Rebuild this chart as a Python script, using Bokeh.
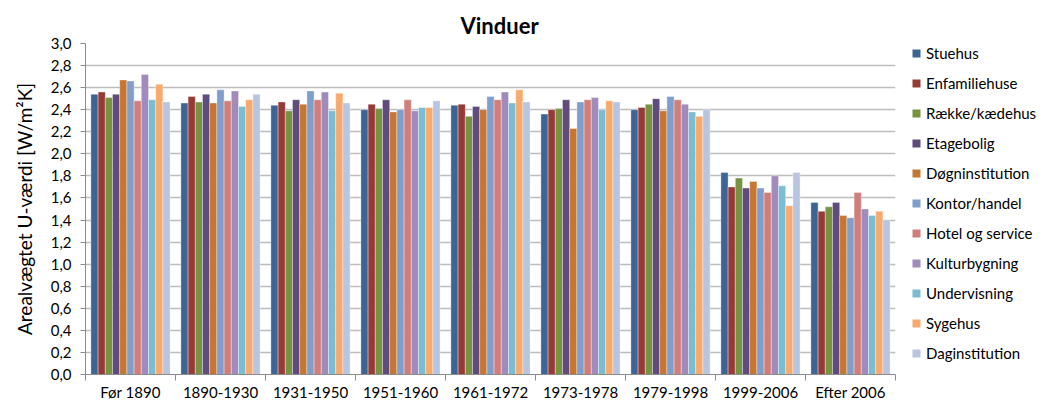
from bokeh.plotting import figure
from bokeh.layouts import row
from bokeh.models import (ColumnDataSource, Range1d, FixedTicker, CustomJSTickFormatter,
                          Legend, LegendItem)
from bokeh.embed import file_html
from bokeh.resources import INLINE

categories = ["Før 1890", "1890-1930", "1931-1950", "1951-1960", "1961-1972",
              "1973-1978", "1979-1998", "1999-2006", "Efter 2006"]

series_names = ["Stuehus", "Enfamiliehuse", "Række/kædehus", "Etagebolig",
                "Døgninstitution", "Kontor/handel", "Hotel og service",
                "Kulturbygning", "Undervisning", "Sygehus", "Daginstitution"]

stuehus        = [2.54, 2.46, 2.44, 2.40, 2.44, 2.36, 2.40, 1.83, 1.56]
enfamiliehuse  = [2.56, 2.52, 2.47, 2.45, 2.45, 2.40, 2.42, 1.70, 1.48]
raekke         = [2.51, 2.47, 2.39, 2.41, 2.34, 2.41, 2.45, 1.78, 1.52]
etagebolig     = [2.54, 2.54, 2.49, 2.49, 2.43, 2.49, 2.50, 1.69, 1.56]
doegninst      = [2.67, 2.46, 2.45, 2.38, 2.40, 2.23, 2.39, 1.75, 1.44]
kontor         = [2.66, 2.58, 2.57, 2.40, 2.52, 2.47, 2.52, 1.69, 1.42]
hotel          = [2.48, 2.48, 2.49, 2.49, 2.49, 2.49, 2.49, 1.65, 1.65]
kultur         = [2.72, 2.57, 2.56, 2.39, 2.56, 2.51, 2.45, 1.80, 1.50]
undervisning   = [2.49, 2.43, 2.39, 2.42, 2.46, 2.40, 2.38, 1.71, 1.44]
sygehus        = [2.63, 2.49, 2.55, 2.42, 2.58, 2.48, 2.34, 1.53, 1.48]
daginst        = [2.47, 2.54, 2.46, 2.48, 2.47, 2.47, 2.40, 1.83, 1.40]

series_values = [stuehus, enfamiliehuse, raekke, etagebolig, doegninst, kontor,
                 hotel, kultur, undervisning, sygehus, daginst]

colors = ["#3C6494", "#963A37", "#779340", "#5F4B7C", "#C57631", "#7F9ECB",
          "#CF7E7B", "#A08BBC", "#7CBCD3", "#F8A96E", "#B7C5E0"]

FONT = "Lato"
n_cat = len(categories)
n_ser = len(series_names)
bar_w = 0.08
H = 403

p = figure(width=905, height=H, output_backend="svg", toolbar_location=None,
           x_range=Range1d(0, n_cat), y_range=Range1d(0, 3.0),
           min_border_left=85, min_border_right=10, min_border_top=43,
           min_border_bottom=29, title="Vinduer")
p.background_fill_color = "white"
p.border_fill_color = "white"
p.outline_line_color = None

p.title.align = "left"
p.title.offset = 375
p.title.text_font = FONT
p.title.text_font_size = "22px"
p.title.text_font_style = "bold"
p.title.text_color = "#000000"
p.title.standoff = 9

for j, (name, vals, col) in enumerate(zip(series_names, series_values, colors)):
    xs = [i + 0.5 + (j - (n_ser - 1) / 2) * bar_w for i in range(n_cat)]
    src = ColumnDataSource(dict(x=xs, top=vals))
    p.vbar(x="x", top="top", width=bar_w, bottom=0, source=src,
           fill_color=col, line_color="white", line_alpha=0.45, line_width=0.8)

# grid
p.xgrid.grid_line_color = None
p.ygrid.grid_line_color = "#BDBDBD"
p.ygrid.grid_line_width = 1.3

# y axis
yticks = [round(k * 0.2, 1) for k in range(16)]
p.yaxis.ticker = FixedTicker(ticks=yticks)
p.yaxis.formatter = CustomJSTickFormatter(code="return tick.toFixed(1).replace('.', ',');")
p.yaxis.axis_label = "Arealvægtet U-værdi [W/m²K]"
p.yaxis.axis_label_text_font = FONT
p.yaxis.axis_label_text_font_size = "19px"
p.yaxis.axis_label_text_font_style = "normal"
p.yaxis.axis_label_text_color = "#000000"
p.yaxis.axis_label_standoff = 12
p.yaxis.major_label_text_font = FONT
p.yaxis.major_label_text_font_size = "15px"
p.yaxis.major_label_text_color = "#000000"
p.yaxis.major_label_standoff = 9
p.yaxis.major_tick_out = 5
p.yaxis.major_tick_in = 0
p.yaxis.minor_tick_line_color = None
p.yaxis.axis_line_color = "#8C8C8C"
p.yaxis.major_tick_line_color = "#8C8C8C"

# x axis: labels at group centres, tick marks at group boundaries
centers = [i + 0.5 for i in range(n_cat)]
bounds = [float(i) for i in range(n_cat + 1)]
p.xaxis.ticker = FixedTicker(ticks=centers, minor_ticks=bounds)
p.xaxis.major_label_overrides = {c: lab for c, lab in zip(centers, categories)}
p.xaxis.major_tick_line_color = None
p.xaxis.minor_tick_out = 6
p.xaxis.minor_tick_in = 0
p.xaxis.minor_tick_line_color = "#8C8C8C"
p.xaxis.axis_line_color = "#8C8C8C"
p.xaxis.major_label_text_font = FONT
p.xaxis.major_label_text_font_size = "15px"
p.xaxis.major_label_text_color = "#000000"
p.xaxis.major_label_standoff = 2

# legend panel (separate figure to the right of the chart)
lp = figure(width=141, height=H, output_backend="svg", toolbar_location=None,
            x_range=Range1d(0, 1), y_range=Range1d(0, 1),
            x_axis_location=None, y_axis_location=None,
            min_border_left=6, min_border_right=0,
            min_border_top=30, min_border_bottom=0)
lp.grid.visible = False
lp.outline_line_color = None
lp.background_fill_color = "white"
lp.border_fill_color = "white"

items = []
for name, col in zip(series_names, colors):
    # zero-size proxy glyph, only used for the legend swatch
    proxy = ColumnDataSource(dict(x=[0.0], top=[0.0]))
    r = lp.vbar(x="x", top="top", bottom=0, width=0, source=proxy,
                fill_color=col, line_color=None)
    items.append(LegendItem(label=name, renderers=[r]))

legend = Legend(items=items, location="top_left", orientation="vertical")
legend.label_text_font = FONT
legend.label_text_font_size = "15px"
legend.label_text_color = "#000000"
legend.glyph_width = 10
legend.glyph_height = 10
legend.label_height = 20
legend.spacing = 10
legend.label_standoff = 5
legend.padding = 0
legend.margin = 0
legend.border_line_color = None
legend.background_fill_alpha = 0
lp.add_layout(legend, "center")

layout = row(p, lp, spacing=0)

open("out.html", "w").write(file_html(layout, INLINE))
